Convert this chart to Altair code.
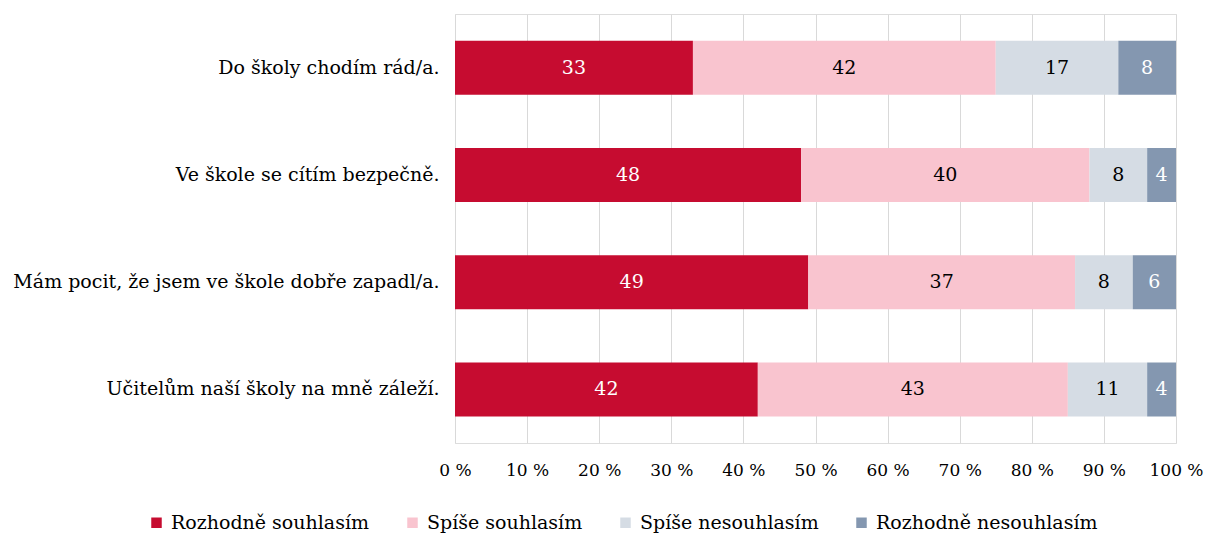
import altair as alt
import pandas as pd

categories = [
    "Do školy chodím rád/a.",
    "Ve škole se cítím bezpečně.",
    "Mám pocit, že jsem ve škole dobře zapadl/a.",
    "Učitelům naší školy na mně záleží.",
]
series = ["Rozhodně souhlasím", "Spíše souhlasím", "Spíše nesouhlasím", "Rozhodně nesouhlasím"]
values = {
    "Rozhodně souhlasím": [33, 48, 49, 42],
    "Spíše souhlasím": [42, 40, 37, 43],
    "Spíše nesouhlasím": [17, 8, 8, 11],
    "Rozhodně nesouhlasím": [8, 4, 6, 4],
}
colors = ["#C60C30", "#F9C4CF", "#D5DCE4", "#8497B0"]
text_colors = ["#FFFFFF", "#000000", "#000000", "#FFFFFF"]

rows = []
for ci, cat in enumerate(categories):
    start = 0
    for si, s in enumerate(series):
        v = values[s][ci]
        rows.append({"cat": cat, "series": s, "value": v, "start": start,
                     "end": start + v, "mid": start + v / 2, "order": si,
                     "tcolor": text_colors[si]})
        start += v
df = pd.DataFrame(rows)

FONT = "DejaVu Serif"

base = alt.Chart(df)
y = alt.Y("cat:N", sort=categories, title=None,
          scale=alt.Scale(paddingInner=0.5, paddingOuter=0.25),
          axis=alt.Axis(domain=False, ticks=False, labelFont=FONT, labelFontSize=19,
                        labelColor="#000000", labelPadding=16, labelLimit=500))

bars = base.mark_bar(size=54).encode(
    x=alt.X("start:Q", scale=alt.Scale(domain=[0, 100], nice=False), title=None,
            axis=alt.Axis(values=list(range(0, 101, 10)), labelExpr="datum.value + ' %'",
                          domain=False, ticks=False, grid=True, gridColor="#D9D9D9",
                          labelFont=FONT, labelFontSize=17, labelColor="#000000",
                          labelPadding=19, labelOverlap=False, labelFlush=False)),
    x2="end:Q",
    y=y,
    color=alt.Color("series:N", sort=series,
                    scale=alt.Scale(domain=series, range=colors),
                    legend=alt.Legend(title=None, orient="none", direction="horizontal",
                                      legendX=-308, legendY=499,
                                      symbolType="square", symbolSize=110,
                                      symbolStrokeWidth=0, symbolOpacity=1,
                                      labelFont=FONT, labelFontSize=19, labelColor="#000000",
                                      labelOffset=5, columnPadding=33, labelLimit=400)),
    order="order:Q",
)

texts = base.mark_text(font=FONT, fontSize=19, baseline="middle", align="center").encode(
    x="mid:Q",
    y=alt.Y("cat:N", sort=categories),
    text="value:Q",
    color=alt.Color("tcolor:N", scale=None),
)

chart = alt.layer(bars, texts).properties(
    width=721, height=429,
    autosize=alt.AutoSizeParams(type="none"),
    padding={"left": 447, "top": 6, "right": 28, "bottom": 100},
).configure_view(stroke=None).configure(background="#FFFFFF")

chart.save("out.html", embed_options={"renderer": "svg", "actions": False})
